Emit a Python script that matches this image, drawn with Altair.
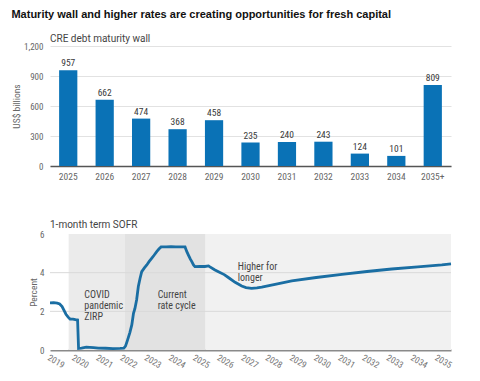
import altair as alt
import pandas as pd

TITLE = "Maturity wall and higher rates are creating opportunities for fresh capital"
FONT = "Liberation Sans Narrow, Roboto Condensed, Arial Narrow, Roboto, sans-serif"
FONT_WIDE = "Roboto, Liberation Sans, sans-serif"
FONT_TITLE = "Liberation Sans, Arial, sans-serif"

# --- CRE debt maturity wall ---
maturity_years = ["2025", "2026", "2027", "2028", "2029", "2030", "2031", "2032", "2033", "2034", "2035+"]
maturity_values = [957, 662, 474, 368, 458, 235, 240, 243, 124, 101, 809]
maturity_ticks = [0, 300, 600, 900, 1200]

# --- 1-month term SOFR ---
sofr_t = [2019.0, 2019.15, 2019.3, 2019.4, 2019.5, 2019.58, 2019.66, 2019.75, 2019.83, 2019.95,
          2020.05, 2020.14, 2020.18, 2020.3, 2020.5, 2020.8, 2021.0, 2021.3, 2021.6, 2021.9,
          2022.05, 2022.12, 2022.2, 2022.3, 2022.38, 2022.45, 2022.51, 2022.58, 2022.65, 2022.72,
          2022.79, 2022.9, 2023.0, 2023.1, 2023.2, 2023.3, 2023.41, 2023.5, 2023.59, 2023.8,
          2024.0, 2024.2, 2024.4, 2024.58, 2024.65, 2024.72, 2024.8, 2024.86, 2024.93, 2024.99,
          2025.2, 2025.4, 2025.55, 2025.61, 2025.8, 2025.96, 2026.2, 2026.37, 2026.65, 2026.92,
          2027.1, 2027.33, 2027.55, 2027.75, 2028.3, 2028.99, 2030.0, 2031.06, 2032.1, 2033.12,
          2034.2, 2035.19, 2035.57]
sofr_v = [2.44, 2.45, 2.42, 2.38, 2.25, 2.05, 1.85, 1.7, 1.6, 1.6,
          1.57, 1.55, 0.08, 0.1, 0.15, 0.12, 0.1, 0.09, 0.07, 0.08,
          0.1, 0.2, 0.5, 0.9, 1.3, 1.9, 2.15, 2.6, 3.28, 3.7,
          4.05, 4.25, 4.4, 4.58, 4.74, 4.9, 5.09, 5.22, 5.33, 5.33,
          5.34, 5.33, 5.33, 5.33, 5.1, 4.91, 4.7, 4.57, 4.4, 4.31,
          4.32, 4.32, 4.35, 4.3, 4.15, 4.05, 3.9, 3.75, 3.5, 3.31,
          3.23, 3.19, 3.21, 3.25, 3.4, 3.57, 3.75, 3.91, 4.06, 4.19,
          4.3, 4.40, 4.45]
sofr_ticks = [0, 2, 4, 6]
sofr_grid = [2, 4]
year_ticks = list(range(2019, 2036))
x_domain = [2019, 2035.57]

period_start = [2019.0, 2019.77, 2022.1, 2025.43]
period_end = [2019.77, 2022.1, 2025.43, 2035.57]
period_color = ["#ffffff", "#ebebeb", "#e2e2e2", "#f1f1f1"]

ann_text = ["COVID", "pandemic", "ZIRP", "Current", "rate cycle", "Higher for", "longer"]
ann_x = [2020.42, 2020.42, 2020.42, 2023.45, 2023.45, 2026.76, 2026.76]
ann_y = [2.85, 2.28, 1.72, 2.85, 2.28, 4.31, 3.74]

# ---------------- top chart ----------------
bars_df = pd.DataFrame({"year": maturity_years, "value": maturity_values})

x_top = alt.X("year:N", sort=maturity_years,
              scale=alt.Scale(paddingInner=0.5, paddingOuter=0.25),
              axis=alt.Axis(title=None, labelAngle=0, ticks=False, domainColor="#555555",
                            domainWidth=1.5, labelColor="#666666", labelFontSize=9.5,
                            labelPadding=5, labelOverlap=False))
y_top = alt.Y("value:Q", scale=alt.Scale(domain=[0, 1200], nice=False),
              axis=alt.Axis(title="US$ billions", values=maturity_ticks, format=",.0f", ticks=False,
                            domain=False, gridColor="#e2e2e2", labelColor="#666666",
                            labelFontSize=9, labelPadding=7, titlePadding=2,
                            titleColor="#666666", titleFontSize=9.5, titleFontWeight="normal"))

bars = alt.Chart(bars_df).mark_bar(color="#0a72b6").encode(x=x_top, y=y_top)
bar_labels = alt.Chart(bars_df).mark_text(baseline="alphabetic", dy=-4, fontSize=9.5,
                                          color="#3a3a3a", font=FONT).encode(
    x=x_top, y=y_top, text="value:Q")

top = alt.layer(bars, bar_labels).properties(
    width=401, height=120,
    title=alt.TitleParams("CRE debt maturity wall", anchor="start", frame="group", fontSize=10,
                          fontWeight="normal", color="#444444", offset=-2, font=FONT_WIDE))

# ---------------- bottom chart ----------------
sofr_df = pd.DataFrame({"t": sofr_t, "v": sofr_v})
period_df = pd.DataFrame({"start": period_start, "end": period_end, "color": period_color})
grid_df = pd.DataFrame({"g": sofr_grid})
ann_df = pd.DataFrame({"text": ann_text, "x": ann_x, "y": ann_y})

x_scale = alt.Scale(domain=x_domain, nice=False, zero=False)
y_scale = alt.Scale(domain=[0, 6], nice=False)
x_axis = alt.Axis(title=None, values=year_ticks, format="d", labelAngle=30, ticks=False,
                  domainColor="#8a8a8a", domainWidth=2, labelColor="#777777", labelFontSize=9,
                  grid=False, labelPadding=3, labelOverlap=False, labelFlush=False)
y_axis = alt.Axis(title="Percent", values=sofr_ticks, ticks=False, domain=False, grid=False,
                  labelColor="#666666", labelFontSize=9, labelPadding=6, titlePadding=1,
                  titleColor="#666666", titleFontSize=9.5, titleFontWeight="normal")

rects = alt.Chart(period_df).mark_rect().encode(
    x=alt.X("start:Q", scale=x_scale, axis=x_axis),
    x2="end:Q",
    y=alt.Y(datum=6, scale=y_scale, axis=y_axis),
    y2=alt.Y2(datum=0),
    color=alt.Color("color:N", scale=None))

grid = alt.Chart(grid_df).mark_rule(color="#d9d9d9", strokeWidth=1).encode(
    y=alt.Y("g:Q", scale=y_scale, axis=y_axis))

line = alt.Chart(sofr_df).mark_line(color="#1a6ea3", strokeWidth=2.8).encode(
    x=alt.X("t:Q", scale=x_scale, axis=x_axis),
    y=alt.Y("v:Q", scale=y_scale, axis=y_axis))

ann = alt.Chart(ann_df).mark_text(align="left", baseline="middle", fontSize=10,
                                  color="#444444", font=FONT).encode(
    x=alt.X("x:Q", scale=x_scale, axis=x_axis),
    y=alt.Y("y:Q", scale=y_scale, axis=y_axis),
    text="text:N")

bottom = alt.layer(rects, grid, line, ann).properties(
    width=401, height=116,
    title=alt.TitleParams("1-month term SOFR", anchor="start", frame="group", fontSize=10,
                          fontWeight="normal", color="#444444", offset=0, font=FONT_WIDE))

chart = alt.vconcat(top, bottom, spacing=68, bounds="flush").properties(
    title=alt.TitleParams(TITLE, anchor="start", fontSize=11, fontWeight="bold",
                          font=FONT_TITLE, color="#111111", offset=14),
    padding={"left": 3, "top": 1, "right": 5, "bottom": 5},
).configure_view(stroke=None).configure_axis(labelFont=FONT, titleFont=FONT)

chart.save("out.html", embed_options={"renderer": "svg", "actions": False})
